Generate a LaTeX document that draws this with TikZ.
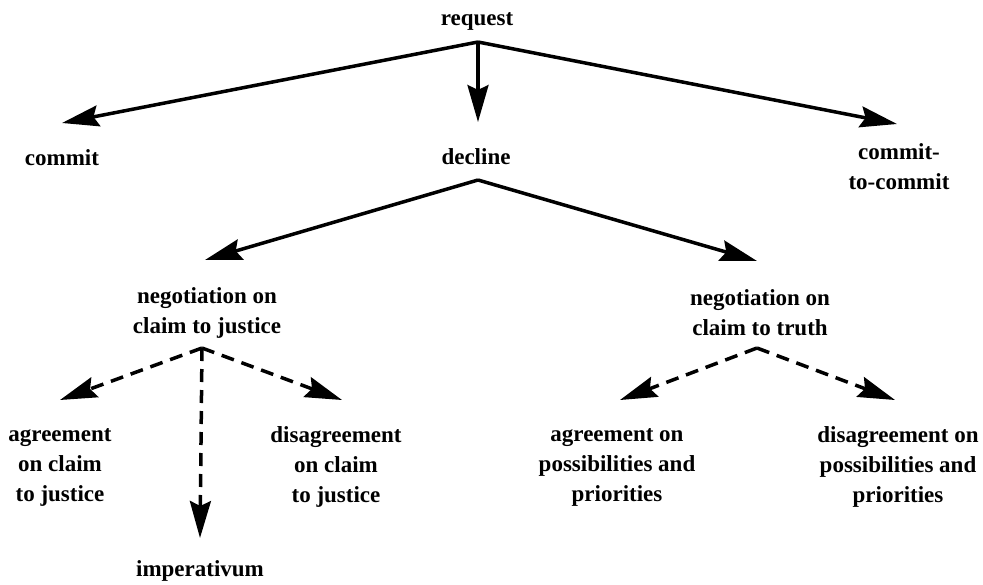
\documentclass[tikz,border=0pt]{standalone}
\usepackage{fontspec}
\setmainfont{Liberation Serif}
\usetikzlibrary{arrows.meta}
\begin{document}
\begin{tikzpicture}[x=1pt,y=-1pt,
 lbl/.style={font=\fontsize{23}{30}\selectfont\bfseries, align=center, inner sep=0pt},
 arr/.style={line width=3.5pt, -{Stealth[length=37pt,width=21pt,inset=5pt]}, line join=round},
 darr/.style={arr, dash pattern=on 13pt off 8pt}]
\useasboundingbox (0,0) rectangle (983,584);
% nodes
\node[lbl] (request) at (477,21) {request};
\node[lbl] (commit) at (62,158) {commit};
\node[lbl] (decline) at (476,157) {decline};
\node[lbl] (c2c) at (899,167) {commit-\\to-commit};
\node[lbl] (njust) at (207,313) {negotiation on\\claim to justice};
\node[lbl] (ntruth) at (760,313) {negotiation on\\claim to truth};
\node[lbl] (agjust) at (60,467) {agreement\\on claim\\to justice};
\node[lbl] (imper) at (200,571) {imperativum};
\node[lbl] (disjust) at (336,467) {disagreement\\on claim\\to justice};
\node[lbl] (agtruth) at (617,467) {agreement on\\possibilities and\\priorities};
\node[lbl] (distruth) at (898,467) {disagreement on\\possibilities and\\priorities};
% fork points and tips
\coordinate (rqf) at (478,42);
\coordinate (dcf) at (478,180);
\coordinate (njf) at (202,348);
\coordinate (ntf) at (757,348);
\coordinate (commitT) at (62,123);
\coordinate (declineT) at (478,122);
\coordinate (c2cT) at (897,124);
\coordinate (njustT) at (205,260);
\coordinate (ntruthT) at (757,261);
\coordinate (agjustT) at (60,400);
\coordinate (imperT) at (200,538);
\coordinate (disjustT) at (342,400);
\coordinate (agtruthT) at (620,400);
\coordinate (distruthT) at (895,400);
% connectors
\draw[arr] (rqf) -- (commitT);
\draw[arr] (rqf) -- (declineT);
\draw[arr] (rqf) -- (c2cT);
\draw[arr] (dcf) -- (njustT);
\draw[arr] (dcf) -- (ntruthT);
\draw[darr] (njf) -- (agjustT);
\draw[darr] (njf) -- (imperT);
\draw[darr] (njf) -- (disjustT);
\draw[darr] (ntf) -- (agtruthT);
\draw[darr] (ntf) -- (distruthT);
\end{tikzpicture}
\end{document}
